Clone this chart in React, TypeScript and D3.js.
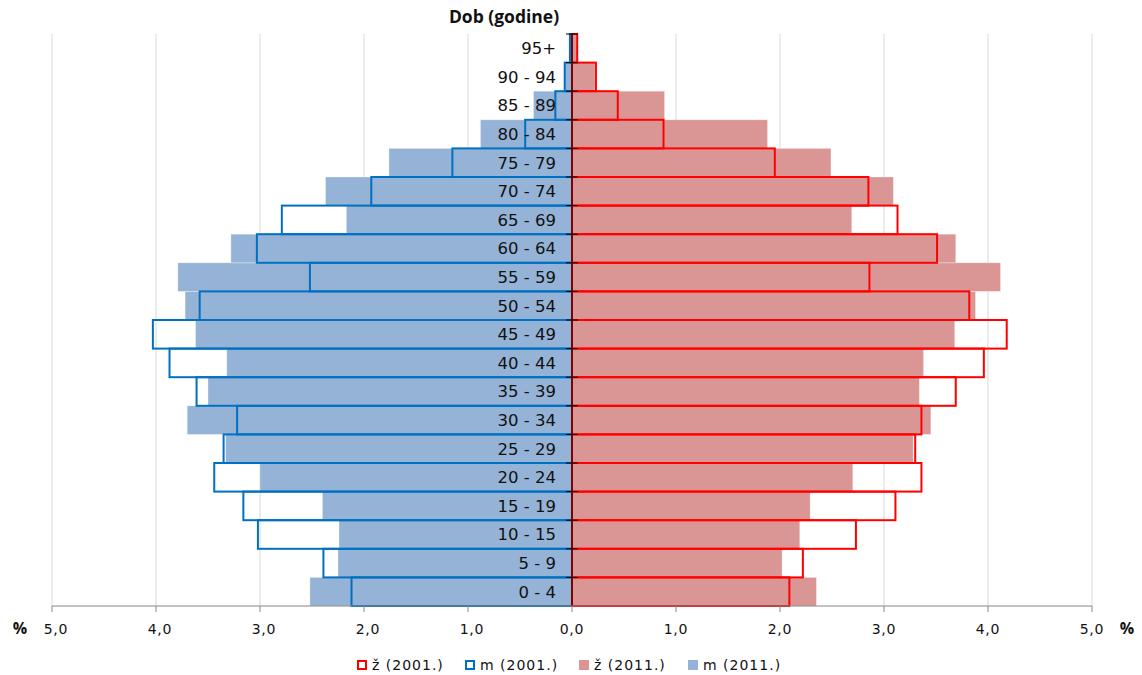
import React from "react";
import * as d3 from "d3";

// categories bottom to top
const ageGroups = ["0 - 4","5 - 9","10 - 15","15 - 19","20 - 24","25 - 29","30 - 34","35 - 39","40 - 44","45 - 49","50 - 54","55 - 59","60 - 64","65 - 69","70 - 74","75 - 79","80 - 84","85 - 89","90 - 94","95+"];
const male2011 = [2.52, 2.25, 2.24, 2.40, 3.00, 3.33, 3.70, 3.50, 3.32, 3.62, 3.72, 3.79, 3.28, 2.17, 2.37, 1.76, 0.88, 0.37, 0.07, 0.02];
const male2001 = [2.12, 2.39, 3.02, 3.16, 3.44, 3.35, 3.22, 3.61, 3.87, 4.03, 3.58, 2.52, 3.03, 2.79, 1.93, 1.15, 0.45, 0.16, 0.07, 0.02];
const female2011 = [2.35, 2.02, 2.19, 2.29, 2.70, 3.28, 3.45, 3.34, 3.38, 3.68, 3.88, 4.12, 3.69, 2.69, 3.09, 2.49, 1.88, 0.89, 0.22, 0.05];
const female2001 = [2.09, 2.22, 2.73, 3.11, 3.36, 3.30, 3.36, 3.69, 3.96, 4.18, 3.82, 2.86, 3.51, 3.13, 2.85, 1.95, 0.88, 0.44, 0.23, 0.05];
const xTicks = [-5, -4, -3, -2, -1, 0, 1, 2, 3, 4, 5];
const legendItems = [
  { label: "ž (2001.)", kind: "outline", color: "#FF0000" },
  { label: "m (2001.)", kind: "outline", color: "#0070C0" },
  { label: "ž (2011.)", kind: "fill", color: "#DA9694" },
  { label: "m (2011.)", kind: "fill", color: "#95B3D7" },
];

const W = 1142, H = 675;
const FONT = "'DejaVu Sans', sans-serif";
const TITLE_FONT = "'Open Sans', 'Noto Sans', sans-serif";

export default function App() {
  const x = d3.scaleLinear().domain([-5, 5]).range([52, 1092]);
  const y = d3.scaleBand<string>().domain([...ageGroups].reverse()).range([34, 606]).padding(0);
  const bw = y.bandwidth();
  const x0 = x(0);
  const fmt = (v: number) => Math.abs(v).toFixed(1).replace(".", ",");
  const legendX = [357, 465, 579, 688];

  return (
    <svg width={W} height={H} style={{ position: "absolute", left: 0, top: 0, background: "#fff" }} fontFamily={FONT}>
      {/* gridlines */}
      {xTicks.filter(t => t !== 0).map(t => (
        <line key={"g" + t} x1={x(t)} x2={x(t)} y1={34} y2={606} stroke="#D9D9D9" strokeWidth={1} />
      ))}
      {/* filled 2011 bars */}
      {ageGroups.map((g, i) => (
        <rect key={"mf" + g} x={x(-male2011[i])} y={y(g)!} width={x0 - x(-male2011[i])} height={bw}
          fill="#95B3D7" stroke="#fff" strokeOpacity={0.35} strokeWidth={0.8} />
      ))}
      {ageGroups.map((g, i) => (
        <rect key={"ff" + g} x={x0} y={y(g)!} width={x(female2011[i]) - x0} height={bw}
          fill="#DA9694" stroke="#fff" strokeOpacity={0.35} strokeWidth={0.8} />
      ))}
      {/* outlined 2001 bars */}
      {ageGroups.map((g, i) => (
        <rect key={"mo" + g} x={x(-male2001[i])} y={y(g)!} width={x0 - x(-male2001[i])} height={bw}
          fill="none" stroke="#0070C0" strokeWidth={2} />
      ))}
      {ageGroups.map((g, i) => (
        <rect key={"fo" + g} x={x0} y={y(g)!} width={x(female2001[i]) - x0} height={bw}
          fill="none" stroke="#FF0000" strokeWidth={2} />
      ))}
      {/* center axis */}
      <line x1={x0} x2={x0} y1={34} y2={606} stroke="#000" strokeWidth={1} />
      {ageGroups.map((g, i) => (
        <line key={"ct" + i} x1={x0 - 6} x2={x0 + 6} y1={y(g)!} y2={y(g)!} stroke="#000" strokeWidth={1} />
      ))}
      {/* category labels */}
      {ageGroups.map(g => (
        <text key={"l" + g} x={556} y={y(g)! + bw / 2} dy="0.36em" textAnchor="end" fontSize={16.5} fill="#111">{g}</text>
      ))}
      {/* title */}
      <text x={504} y={23} textAnchor="middle" fontSize={17.5} fontWeight="bold" fill="#111" fontFamily={TITLE_FONT}>Dob (godine)</text>
      {/* bottom axis */}
      <line x1={x(-5)} x2={x(5)} y1={606} y2={606} stroke="#868686" strokeWidth={1} />
      {xTicks.map(t => (
        <g key={"t" + t}>
          <line x1={x(t)} x2={x(t)} y1={606} y2={612} stroke="#868686" strokeWidth={1} />
          <text x={x(t) + (t < 0 ? 4 : 0)} y={634} textAnchor="middle" fontSize={14} letterSpacing={0.8} fill="#111">{fmt(t)}</text>
        </g>
      ))}
      <text x={20} y={634} textAnchor="middle" fontSize={16} fontWeight="bold" fill="#111" fontFamily={TITLE_FONT}>%</text>
      <text x={1127} y={634} textAnchor="middle" fontSize={16} fontWeight="bold" fill="#111" fontFamily={TITLE_FONT}>%</text>
      {/* legend */}
      {legendItems.map((it, i) => (
        <g key={"lg" + i} transform={`translate(${legendX[i]},665)`}>
          {it.kind === "outline"
            ? <rect x={1} y={-4} width={8} height={8} fill="#fff" stroke={it.color} strokeWidth={2} />
            : <rect x={0} y={-5} width={10} height={10} fill={it.color} />}
          <text x={15} y={0} dy="0.36em" fontSize={14} letterSpacing={1} fill="#111">{it.label}</text>
        </g>
      ))}
    </svg>
  );
}
